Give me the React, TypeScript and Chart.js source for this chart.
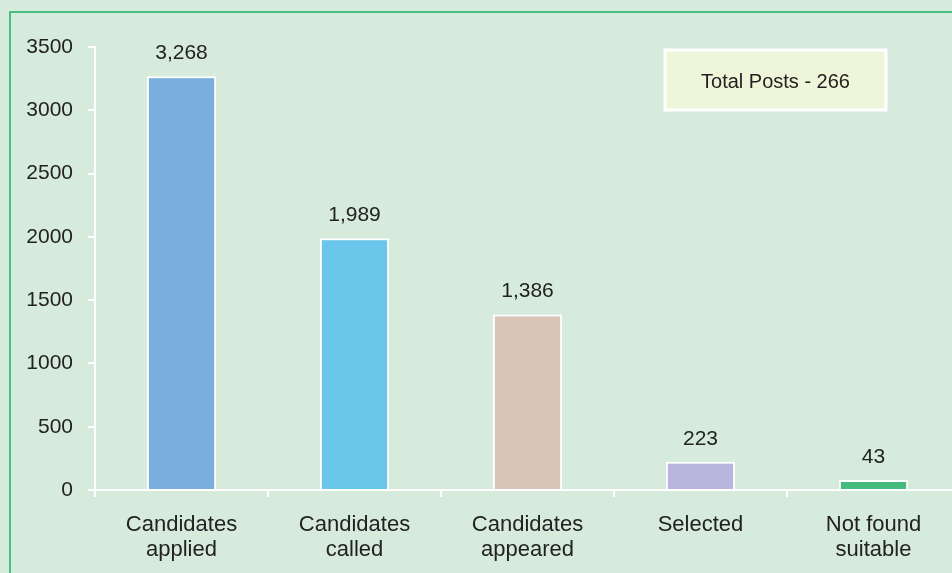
import React, { useEffect, useRef } from "react";
import { Chart, registerables } from "chart.js";

Chart.register(...registerables);

const categories: string[][] = [
  ["Candidates", "applied"],
  ["Candidates", "called"],
  ["Candidates", "appeared"],
  ["Selected"],
  ["Not found", "suitable"],
];
const values: number[] = [3268, 1989, 1386, 223, 43];
const valueLabels: string[] = ["3,268", "1,989", "1,386", "223", "43"];
const barColors: string[] = ["#7aaedf", "#6ac6eb", "#d8c5b8", "#bab5de", "#45ba7d"];
const yTicks: number[] = [0, 500, 1000, 1500, 2000, 2500, 3000, 3500];
const noteText = "Total Posts - 266";

const FONT = "'Liberation Sans', Arial, sans-serif";

const decorPlugin = {
  id: "decor",
  beforeDraw(chart: any) {
    const { ctx, width, height } = chart;
    ctx.save();
    ctx.fillStyle = "#d6ebdc";
    ctx.fillRect(0, 0, width, height);
    ctx.strokeStyle = "#45bf7d";
    ctx.lineWidth = 2;
    ctx.beginPath();
    ctx.moveTo(10, height);
    ctx.lineTo(10, 12);
    ctx.lineTo(width, 12);
    ctx.stroke();
    ctx.restore();
  },
  afterDatasetsDraw(chart: any) {
    const { ctx } = chart;
    const meta = chart.getDatasetMeta(0);
    ctx.save();
    ctx.fillStyle = "#222";
    ctx.font = `21px ${FONT}`;
    ctx.textAlign = "center";
    ctx.textBaseline = "middle";
    meta.data.forEach((bar: any, i: number) => {
      ctx.fillText(valueLabels[i], bar.x, bar.y - 23);
    });
    // note box
    const x = 665, y = 50, w = 221, h = 60;
    ctx.fillStyle = "#eff5d9";
    ctx.fillRect(x, y, w, h);
    ctx.strokeStyle = "#ffffff";
    ctx.lineWidth = 3;
    ctx.strokeRect(x, y, w, h);
    ctx.fillStyle = "#222";
    ctx.font = `20px ${FONT}`;
    ctx.fillText(noteText, x + w / 2, y + h / 2 + 2);
    ctx.restore();
  },
};

export default function App() {
  const ref = useRef<HTMLCanvasElement | null>(null);
  useEffect(() => {
    if (!ref.current) return;
    const chart = new Chart(ref.current, {
      type: "bar",
      data: {
        labels: categories,
        datasets: [
          {
            data: values,
            backgroundColor: barColors,
            borderColor: "#ffffff",
            borderWidth: 2,
            barPercentage: 0.4,
            categoryPercentage: 1,
            minBarLength: 10,
          },
        ],
      },
      options: {
        responsive: false,
        devicePixelRatio: 1,
        animation: false,
        layout: { padding: { left: 0, right: 2, top: 47, bottom: 0 } },
        plugins: {
          legend: { display: false },
          tooltip: { enabled: false },
        },
        scales: {
          x: {
            grid: {
              display: true,
              drawOnChartArea: false,
              color: "#ffffff",
              lineWidth: 2,
              tickLength: 7,
              offset: true,
            },
            border: { color: "#ffffff", width: 2 },
            ticks: {
              color: "#222",
              font: { family: FONT, size: 22, lineHeight: 1.14 },
              padding: 15,
              maxRotation: 0,
              autoSkip: false,
            },
            afterFit(scale: any) {
              scale.height = 83;
            },
          },
          y: {
            min: 0,
            max: 3500,
            afterBuildTicks(scale: any) {
              scale.ticks = yTicks.map((v) => ({ value: v }));
            },
            grid: {
              display: true,
              drawOnChartArea: false,
              color: "#ffffff",
              lineWidth: 2,
              tickLength: 7,
            },
            border: { color: "#ffffff", width: 2 },
            ticks: {
              color: "#222",
              font: { family: FONT, size: 21 },
              padding: 15,
              callback: (v: any) => String(v),
            },
            afterFit(scale: any) {
              scale.width = 95;
            },
          },
        },
      },
      plugins: [decorPlugin],
    });
    return () => chart.destroy();
  }, []);
  return (
    <div
      style={{
        position: "fixed",
        left: 0,
        top: 0,
        width: 952,
        height: 573,
        overflow: "hidden",
        background: "#d6ebdc",
      }}
    >
      <canvas ref={ref} width={962} height={573} style={{ display: "block" }} />
    </div>
  );
}
